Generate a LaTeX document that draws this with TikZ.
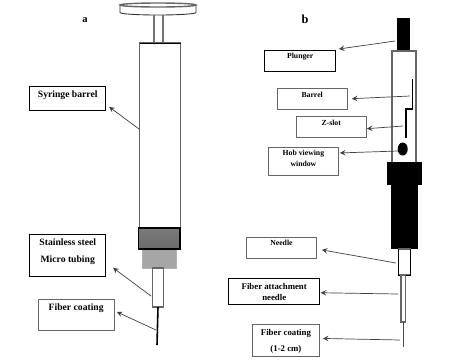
\documentclass[tikz,border=0pt]{standalone}
\usepackage{fontspec}
\setmainfont{Liberation Serif}
\usetikzlibrary{arrows, calc}

\definecolor{hubdark}{gray}{0.42}
\definecolor{hublight}{gray}{0.65}

% two centred lines hanging from the first baseline
\newcommand{\twolines}[2]{\begin{tabular}[t]{@{}c@{}}#1\\#2\end{tabular}}

\begin{document}
\begin{tikzpicture}[
    x=0.02cm, y=-0.02cm,
    labelbox/.style={rectangle, draw, line width=0.5pt, anchor=north west, inner sep=0pt, font=\bfseries\fontsize{5.5}{9.6}\selectfont},
    smalltext/.style={font=\bfseries\fontsize{4.4}{6}\selectfont},
    midtext/.style={font=\bfseries\fontsize{5}{9.6}\selectfont},
    arrow/.style={->, >=stealth, line width=0.4pt, draw=black!75},
    partline/.style={draw=black!60, line width=0.5pt}
]
\useasboundingbox (0,0) rectangle (470,363);

% panel letters
\node[font=\bfseries\fontsize{6}{7}\selectfont] (panela) at (85,20) {a};
\node[font=\bfseries\fontsize{7}{8}\selectfont] (panelb) at (305,19) {b};

% syringe a
\draw[black!80, line width=0.5pt, fill=white] (120,5) -- (120,12.5) arc[start angle=180, end angle=0, x radius=38, y radius=2.5] -- (196,5);
\draw[partline, line width=0.8pt, fill=white] (158,5) ellipse[x radius=38, y radius=2];
\draw[draw=black!55, line width=1pt] (154,15) -- (154,43) (163,15) -- (163,43);
\draw[partline, line width=0.6pt] (139.5,228) -- (139.5,43) -- (180.5,43) -- (180.5,228);
\draw[black, line width=0.5pt] (139.5,43) -- (180.5,43);
\draw[fill=hublight, draw=black!30, line width=0.3pt] (142,249) rectangle (176.5,268);
\draw[black, line width=0.7pt, top color=hubdark!90, bottom color=hubdark] (138.5,228) rectangle (180,249);
\draw[partline, line width=0.6pt, fill=white] (152.5,268) rectangle (163.5,307);
\draw[black, line width=0.9pt] (158,307) -- (157,345);

% syringe b
\fill[black] (397,18) rectangle (409.5,51);
\draw[partline, line width=0.7pt, fill=white] (392,163) -- (392,51) -- (416,51) -- (416,163);
\draw[black, line width=0.7pt] (412.5,79) -- (412.5,109) -- (406,109) -- (406,138);
\fill[black] (402.7,149) ellipse[x radius=5, y radius=6.5];
\fill[black] (387,162) rectangle (422,185);
\fill[black] (391,185) rectangle (418,249);
\draw[partline, line width=0.6pt, fill=white] (398.5,249) rectangle (410.5,275);
\draw[black, line width=0.5pt] (398.5,249) -- (398.5,275) -- (410.5,275) -- (410.5,249);
\draw[partline, line width=0.7pt, fill=white] (401,275) rectangle (405.5,322);
\draw[black!70, line width=0.4pt] (403.7,322) -- (403.7,347);

% labels of a
\node[labelbox, minimum width=1.52cm, minimum height=0.49cm, text height=6.4pt, text depth=7.4pt] (syringelabel) at (29.3,85.5) {Syringe barrel};
\node[labelbox, minimum width=1.52cm, minimum height=0.85cm, text height=6.6pt, text depth=17.5pt] (tubinglabel) at (29.3,233.5) {\twolines{Stainless steel}{Micro tubing}};
\node[labelbox, draw=black!60, minimum width=1.53cm, minimum height=0.62cm, text height=6.2pt, text depth=11.4pt] (coatinglabel) at (37.5,299) {Fiber coating};

% labels of b
\node[labelbox, smalltext, minimum width=1.43cm, minimum height=0.42cm, text height=5pt, text depth=6.9pt] (plungerlabel) at (264,49.5) {Plunger};
\node[labelbox, smalltext, draw=black!60, minimum width=1.41cm, minimum height=0.43cm, text height=5.2pt, text depth=7pt] (barrellabel) at (276.5,87.5) {Barrel};
\node[labelbox, smalltext, draw=black!60, minimum width=1.41cm, minimum height=0.43cm, text height=5.2pt, text depth=7pt] (slotlabel) at (295.5,115.5) {Z-slot};
\node[labelbox, smalltext, draw=black!60, minimum width=1.42cm, minimum height=0.56cm, text height=5pt, text depth=10.9pt] (windowlabel) at (267.5,146.5) {\twolines{Hob viewing}{window}};
\node[labelbox, smalltext, draw=black!60, minimum width=1.42cm, minimum height=0.42cm, text height=4.5pt, text depth=7.4pt] (needlelabel) at (245.5,237) {Needle};
\node[labelbox, font=\bfseries\fontsize{5}{6.2}\selectfont, minimum width=1.82cm, minimum height=0.52cm, text height=6pt, text depth=8.7pt] (attachlabel) at (228.3,278.3) {\twolines{Fiber attachment}{needle}};
\node[labelbox, midtext, draw=black!60, minimum width=1.36cm, minimum height=0.64cm, text height=6pt, text depth=12.1pt] (rangelabel) at (251.5,324) {\twolines{Fiber coating}{(1-2 cm)}};

% arrows of a
\coordinate (barreltail) at (139,129);
\coordinate (tubingtail) at (151,296);
\coordinate (coatingtail) at (156,330);
\draw[arrow] (barreltail) -- ($(syringelabel.south east)+(3,-4)$);
\draw[arrow] (tubingtail) -- ($(tubinglabel.south east)+(7,-9)$);
\draw[arrow] (coatingtail) -- ($(coatinglabel.east)+(2,-3)$);

% arrows of b
\coordinate (plungertail) at (395,41);
\coordinate (barreltailb) at (410,96);
\coordinate (slottail) at (403,126);
\coordinate (windowtail) at (398,151);
\coordinate (needletail) at (396,263);
\coordinate (attachtail) at (398,294);
\coordinate (rangetail) at (400,340);
\draw[arrow] (plungertail) -- ($(plungerlabel.north east)+(2.5,-0.5)$);
\draw[arrow] (barreltailb) -- ($(barrellabel.east)+(4,0)$);
\draw[arrow] (slottail) -- ($(slotlabel.east)+(0,2)$);
\draw[arrow] (windowtail) -- ($(windowlabel.east)+(0.5,-8)$);
\draw[arrow] (needletail) -- ($(needlelabel.south east)+(4.5,-9)$);
\draw[arrow] (attachtail) -- ($(attachlabel.east)+(0.5,1)$);
\draw[arrow] (rangetail) -- ($(rangelabel.east)+(2.5,-2)$);

\end{tikzpicture}
\end{document}
